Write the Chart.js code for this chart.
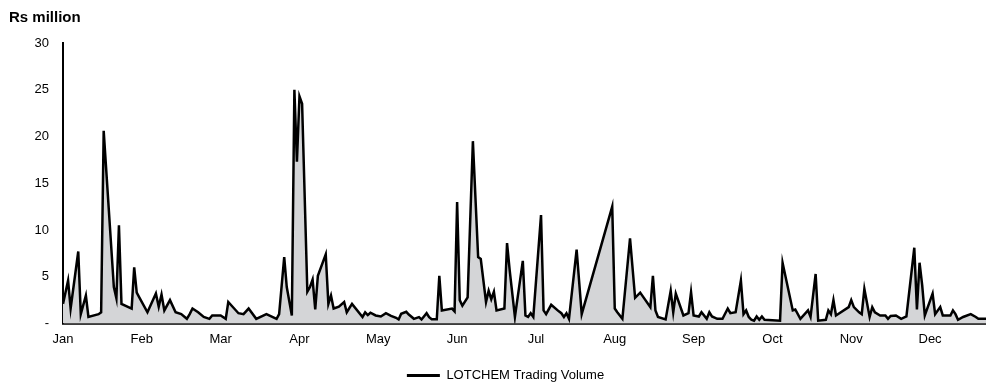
<!DOCTYPE html>
<html>
<head>
<meta charset="utf-8">
<script src="https://cdn.jsdelivr.net/npm/chart.js@4/dist/chart.umd.min.js"></script>
<style>
  html, body { margin: 0; padding: 0; background: #fff; }
  #wrap { width: 986px; height: 382px; }
</style>
</head>
<body>
<div id="wrap"><canvas id="chart" width="986" height="382"></canvas></div>
<script>
// Month names used as x-axis tick labels
const monthLabels = ['Jan','Feb','Mar','Apr','May','Jun','Jul','Aug','Sep','Oct','Nov','Dec'];
const daysInMonth = [31,28,31,30,31,30,31,31,30,31,30,31];

// Trading dates (MM-DD)
const tradeDates = [
  '01-01','01-03','01-04','01-07','01-08','01-10','01-11','01-15','01-16','01-17','01-21','01-22','01-23','01-24','01-28','01-29','01-30','01-31',
  '02-03','02-06','02-07','02-08','02-09','02-11','02-13','02-15','02-17','02-18','02-19','02-21','02-23','02-25','02-26',
  '03-01','03-03','03-04','03-08','03-10','03-12','03-15','03-19','03-23','03-24','03-26','03-27','03-29','03-30','03-31',
  '04-01','04-02','04-04','04-05','04-06','04-07','04-08','04-11','04-12','04-13','04-14','04-16','04-18','04-19','04-21','04-25','04-26','04-27','04-28','04-30',
  '05-02','05-04','05-06','05-08','05-09','05-10','05-12','05-13','05-15','05-17','05-18','05-20','05-21','05-22','05-24','05-25','05-26','05-30','05-31',
  '06-01','06-02','06-03','06-05','06-07','06-09','06-10','06-12','06-13','06-14','06-15','06-16','06-19','06-20','06-21','06-23','06-26','06-27','06-28','06-29','06-30',
  '07-03','07-04','07-05','07-07','07-10','07-11','07-12','07-13','07-14','07-17','07-19','07-31',
  '08-01','08-02','08-04','08-07','08-09','08-11','08-15','08-16','08-17','08-18','08-21','08-23','08-24','08-25','08-28','08-30','08-31',
  '09-01','09-03','09-04','09-06','09-07','09-08','09-10','09-12','09-14','09-15','09-17','09-19','09-20','09-21','09-22','09-23','09-24','09-25','09-26','09-27','09-28',
  '10-04','10-05','10-09','10-10','10-12','10-15','10-16','10-18','10-19','10-22','10-23','10-24','10-25','10-26','10-31',
  '11-01','11-02','11-04','11-05','11-06','11-08','11-09','11-10','11-12','11-14','11-15','11-16','11-18','11-20','11-22','11-25','11-26','11-27','11-28','11-29',
  '12-02','12-03','12-05','12-06','12-09','12-10','12-11','12-12','12-14','12-17','12-19','12-20','12-23'
];

// LOTCHEM trading volume, Rs million
const tradingVolume = [
  2.1,4.6,1.6,7.7,1.0,3.0,0.7,1.0,1.2,20.6,3.9,2.7,10.5,2.1,1.6,6.0,3.3,2.8,
  1.2,3.2,1.8,3.1,1.4,2.5,1.2,1.0,0.5,1.0,1.6,1.2,0.7,0.5,0.85,
  0.85,0.5,2.3,1.1,1.0,1.6,0.5,1.0,0.5,1.0,7.1,3.9,0.85,25.0,17.3,
  24.3,23.5,3.4,3.9,4.7,1.5,5.1,7.4,2.1,3.0,1.6,1.8,2.3,1.2,2.1,0.7,1.2,0.9,1.15,0.86,
  0.75,1.1,0.82,0.61,0.43,1.04,1.25,0.96,0.5,0.68,0.43,1.1,0.68,0.46,0.46,5.1,1.4,1.6,1.3,
  13.0,2.5,1.9,2.8,19.5,7.1,6.9,2.3,3.5,2.6,3.4,1.4,1.6,8.6,5.7,0.7,6.7,0.85,0.7,1.1,0.7,
  11.6,1.4,1.0,2.0,1.3,1.1,0.7,1.1,0.5,7.9,1.0,12.5,
  1.6,1.2,0.5,9.1,2.75,3.3,1.75,5.1,1.4,0.7,0.43,3.5,1.2,3.2,0.86,1.1,3.35,
  0.86,0.75,1.2,0.5,1.2,0.75,0.5,0.5,1.6,1.1,1.2,4.6,1.0,1.4,0.7,0.4,0.3,0.75,0.4,0.75,0.4,
  0.3,6.5,1.4,1.5,0.5,1.4,0.7,5.3,0.3,0.4,1.4,1.0,2.5,0.86,1.75,
  2.5,1.75,1.2,1.0,3.7,0.7,1.75,1.2,0.86,0.86,0.5,0.8,0.86,0.5,0.75,8.1,1.5,6.5,4.1,0.86,
  3.2,1.0,1.75,0.86,0.86,1.4,1.0,0.4,0.7,1.0,0.7,0.5,0.5
];

// Y-axis ticks
const yTicks = [0, 5, 10, 15, 20, 25, 30];

// Each month takes an equal share of the axis
function monthPosition(mmdd) {
  const m = parseInt(mmdd.slice(0, 2), 10) - 1;
  const d = parseInt(mmdd.slice(3, 5), 10);
  return m + (d - 1) / daysInMonth[m];
}

const points = tradeDates.map((d, i) => ({ x: monthPosition(d), y: tradingVolume[i] }));
const xMax = monthPosition(tradeDates[tradeDates.length - 1]);

const FONT = "'Liberation Sans', Arial, sans-serif";

// Move the legend slightly right and down from its default slot
const legendShift = {
  id: 'legendShift',
  afterLayout(chart) {
    const lg = chart.legend;
    if (lg) {
      lg.left += 8;
      lg.right += 8;
      lg.top += 10;
      lg.bottom += 10;
    }
  }
};

new Chart(document.getElementById('chart'), {
  type: 'line',
  data: {
    datasets: [{
      label: 'LOTCHEM Trading Volume',
      data: points,
      borderColor: '#000000',
      backgroundColor: '#d4d5d7',
      borderWidth: 2.5,
      fill: 'origin',
      tension: 0,
      pointRadius: 0,
      pointHoverRadius: 0
    }]
  },
  plugins: [legendShift],
  options: {
    responsive: false,
    animation: false,
    layout: { padding: { left: 9, right: 0, top: 0, bottom: 0 } },
    plugins: {
      tooltip: { enabled: false },
      title: {
        display: true,
        text: 'Rs million',
        align: 'start',
        color: '#000',
        font: { family: FONT, size: 15, weight: 'bold' },
        padding: { top: 9, bottom: 16 }
      },
      legend: {
        display: true,
        position: 'bottom',
        labels: {
          color: '#000',
          font: { family: FONT, size: 13 },
          boxWidth: 33,
          boxHeight: 3,
          padding: 0,
          generateLabels: (chart) => [{
            text: chart.data.datasets[0].label,
            fillStyle: '#000',
            strokeStyle: '#000',
            lineWidth: 0,
            hidden: false,
            datasetIndex: 0
          }]
        }
      }
    },
    scales: {
      x: {
        type: 'linear',
        min: 0,
        max: xMax,
        grid: { display: false, drawTicks: false },
        border: { display: true, color: '#3c3c3c', width: 3 },
        afterFit: (scale) => { scale.height = 35.5; },
        afterBuildTicks: (scale) => { scale.ticks = monthLabels.map((_, i) => ({ value: i })); },
        ticks: {
          color: '#000',
          font: { family: FONT, size: 13 },
          padding: 8,
          maxRotation: 0,
          autoSkip: false,
          callback: (v) => monthLabels[v]
        }
      },
      y: {
        min: 0,
        max: 30,
        grid: { display: false, drawTicks: false },
        border: { display: true, color: '#000', width: 2 },
        afterFit: (scale) => { scale.width = 54; },
        afterBuildTicks: (scale) => { scale.ticks = yTicks.map(v => ({ value: v })); },
        ticks: {
          color: '#000',
          font: { family: FONT, size: 13 },
          padding: 14,
          callback: (v) => (v === 0 ? '-' : String(v))
        }
      }
    }
  }
});
</script>
</body>
</html>
